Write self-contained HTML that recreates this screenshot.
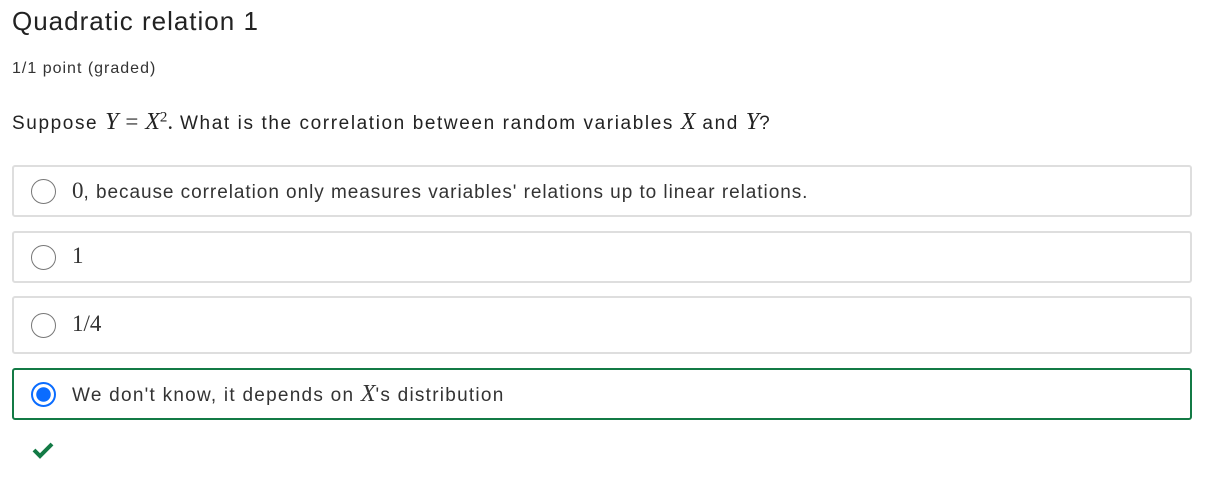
<!DOCTYPE html>
<html><head><meta charset="utf-8"><style>
body{margin:0;background:#fff;font-family:"Liberation Sans",sans-serif;color:#313131;width:1207px;height:478px;position:relative;overflow:hidden}
.a{position:absolute;white-space:nowrap}
.m{font-family:"Liberation Serif",serif;font-style:italic;font-size:24px;letter-spacing:0}
.n{font-family:"Liberation Serif",serif;font-size:23px;letter-spacing:0}
.box{position:absolute;left:12px;width:1180px;border:2px solid #dedede;border-radius:3px;box-sizing:border-box}
.r{position:absolute;left:17px;width:25px;height:25px;border:1.5px solid #777;border-radius:50%;box-sizing:border-box}
.t{position:absolute;left:58px;font-size:19px;color:#333;letter-spacing:0.95px}
</style></head><body>
<div class="a" style="left:12px;top:6px;font-size:26px;color:#222;letter-spacing:1px">Quadratic relation 1</div>
<div class="a" style="left:12px;top:60px;font-size:16px;color:#333;letter-spacing:1px">1/1 point (graded)</div>
<div class="a" style="left:12px;top:109px;font-size:19px;color:#222;letter-spacing:1.6px">Suppose <span class="m">Y</span>&nbsp;<span class="n">=</span>&nbsp;<span class="m">X</span><sup class="n" style="font-size:15px">2</sup><span class="n">.</span> What is the correlation between random variables <span class="m">X</span> and <span class="m">Y</span>?</div>
<div class="box" style="top:165px;height:52px"><div class="r" style="top:12px"></div><div class="t" style="top:11px"><span class="n">0</span>, because correlation only measures variables' relations up to linear relations.</div></div>
<div class="box" style="top:231px;height:52px"><div class="r" style="top:12px"></div><div class="t" style="top:10px"><span class="n">1</span></div></div>
<div class="box" style="top:296px;height:58px"><div class="r" style="top:15px"></div><div class="t" style="top:13px"><span class="n">1/4</span></div></div>
<div class="box" style="top:368px;height:52px;border-color:#137a45"><div class="r" style="top:12px;border:2px solid #0a6cff;background:radial-gradient(circle,#0a6cff 0 7px,#fff 7.5px)"></div><div class="t" style="top:11px;letter-spacing:1.25px">We don't know, it depends on <span class="m">X</span>'s distribution</div></div>
<svg class="a" style="left:31px;top:440px" width="24" height="20"><path d="M3 10 L9 16 L21 4" stroke="#137a45" stroke-width="4" fill="none"/></svg>
</body></html>
